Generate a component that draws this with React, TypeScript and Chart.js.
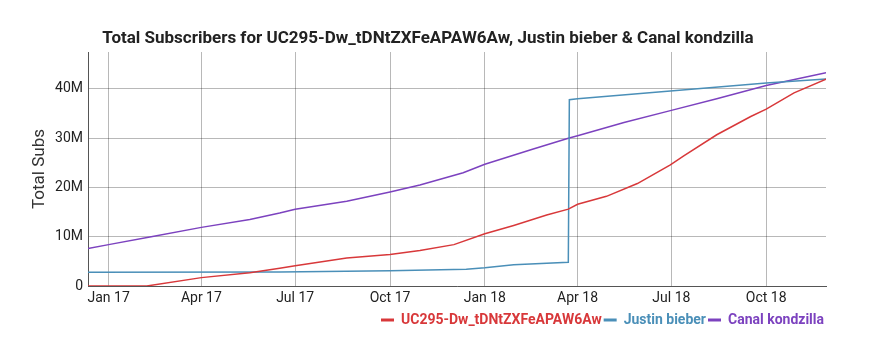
import React, { useEffect, useRef } from 'react';
import { Chart, registerables } from 'chart.js';

Chart.register(...registerables);

const chartTitle =
  'Total Subscribers for UC295-Dw_tDNtZXFeAPAW6Aw, Justin bieber & Canal kondzilla';
const yAxisTitle = 'Total Subs';

const seriesNames = ['UC295-Dw_tDNtZXFeAPAW6Aw', 'Justin bieber', 'Canal kondzilla'];
const seriesColors = ['#d8383a', '#4a8fb8', '#7c42bf'];

// x values: days since 1 Jan 2017
const xMinDay = -20;
const xMaxDay = 696;
const xTickDays = [0, 90, 181, 273, 365, 455, 546, 638];
const xTickLabels = ['Jan 17', 'Apr 17', 'Jul 17', 'Oct 17', 'Jan 18', 'Apr 18', 'Jul 18', 'Oct 18'];

const yMax = 47.5e6;
const yTickValues = [0, 10e6, 20e6, 30e6, 40e6];
const yTickLabels = ['0', '10M', '20M', '30M', '40M'];

// subscribers in millions
const redDays = [-20, 37, 90, 137, 166, 181, 231, 273, 302, 335, 365, 393, 425, 446, 455, 483, 513, 545, 558, 590, 623, 638, 665, 696];
const redSubs = [0, 0, 1.7, 2.7, 3.6, 4.1, 5.7, 6.4, 7.2, 8.4, 10.6, 12.3, 14.4, 15.6, 16.6, 18.2, 20.8, 24.6, 26.4, 30.7, 34.4, 35.9, 39.2, 42.0];

const blueDays = [-20, 166, 273, 347, 365, 393, 446, 447, 455, 545, 638, 696];
const blueSubs = [2.8, 2.85, 3.1, 3.4, 3.7, 4.3, 4.8, 37.8, 38.0, 39.6, 41.2, 42.0];

const purpleDays = [-20, 0, 40, 90, 137, 166, 181, 231, 273, 302, 344, 365, 412, 446, 455, 500, 545, 590, 638, 696];
const purpleSubs = [7.6, 8.4, 9.95, 11.9, 13.5, 14.8, 15.6, 17.2, 19.1, 20.5, 23.0, 24.7, 27.8, 30.0, 30.5, 33.2, 35.6, 38.0, 40.7, 43.3];

const seriesDays = [redDays, blueDays, purpleDays];
const seriesSubs = [redSubs, blueSubs, purpleSubs];

const titlePlugin = {
  id: 'customTitle',
  afterDraw(chart: any) {
    const ctx = chart.ctx;
    ctx.save();
    ctx.font = 'bold 17px Roboto';
    ctx.fillStyle = '#222';
    ctx.textAlign = 'center';
    ctx.textBaseline = 'alphabetic';
    ctx.fillText(chartTitle, 428, 43);
    ctx.restore();
  },
};

export default function App() {
  const ref = useRef<HTMLCanvasElement>(null);

  useEffect(() => {
    if (!ref.current) return;
    const datasets = seriesNames.map((name, i) => ({
      label: name,
      data: seriesDays[i].map((d, j) => ({ x: d, y: seriesSubs[i][j] * 1e6 })),
      borderColor: seriesColors[i],
      backgroundColor: seriesColors[i],
      borderWidth: 1.5,
      pointRadius: 0,
      tension: 0,
      fill: false,
    }));

    const chart = new Chart(ref.current, {
      type: 'line',
      data: { datasets },
      plugins: [titlePlugin],
      options: {
        responsive: false,
        animation: false,
        devicePixelRatio: 1,
        layout: { padding: { top: 52, right: 49, bottom: 14, left: 0 } },
        plugins: {
          title: { display: false },
          tooltip: { enabled: false },
          legend: {
            position: 'bottom',
            align: 'end',
            labels: {
              usePointStyle: true,
              pointStyleWidth: 13,
              padding: 2,
              font: { family: 'Roboto', size: 14, weight: 'bold' },
              generateLabels: () =>
                seriesNames.map((n, i) => ({
                  text: n,
                  fillStyle: seriesColors[i],
                  strokeStyle: seriesColors[i],
                  fontColor: seriesColors[i],
                  lineWidth: 3,
                  pointStyle: 'line',
                  hidden: false,
                  datasetIndex: i,
                })),
            },
          },
        },
        scales: {
          x: {
            type: 'linear',
            min: xMinDay,
            max: xMaxDay,
            grid: { color: 'rgba(0,0,0,0.28)', drawTicks: false },
            border: { color: '#555', width: 1 },
            ticks: {
              autoSkip: false,
              maxRotation: 0,
              padding: 4,
              color: '#222',
              font: { family: 'Roboto', size: 14 },
              callback: (v: any) => {
                const k = xTickDays.indexOf(Number(v));
                return k >= 0 ? xTickLabels[k] : '';
              },
            },
            afterBuildTicks: (scale: any) => {
              scale.ticks = xTickDays.map((v) => ({ value: v }));
            },
            afterFit: (scale: any) => {
              scale.height = 25;
            },
          },
          y: {
            type: 'linear',
            min: 0,
            max: yMax,
            grid: { color: 'rgba(0,0,0,0.28)', drawTicks: false },
            border: { color: '#555', width: 1 },
            title: {
              display: true,
              text: yAxisTitle,
              color: '#333',
              font: { family: 'Roboto', size: 17 },
              padding: { top: 30, bottom: 0 },
            },
            ticks: {
              padding: 5,
              color: '#222',
              font: { family: 'Roboto', size: 14 },
              callback: (v: any) => {
                const k = yTickValues.indexOf(Number(v));
                return k >= 0 ? yTickLabels[k] : '';
              },
            },
            afterBuildTicks: (scale: any) => {
              scale.ticks = yTickValues.map((v) => ({ value: v }));
            },
            afterFit: (scale: any) => {
              scale.width = 88;
            },
          },
        },
      },
    });
    return () => chart.destroy();
  }, []);

  return (
    <div style={{ position: 'fixed', left: 0, top: 0, width: 875, height: 351, background: '#fff' }}>
      <canvas ref={ref} width={875} height={351} style={{ display: 'block' }} />
    </div>
  );
}
